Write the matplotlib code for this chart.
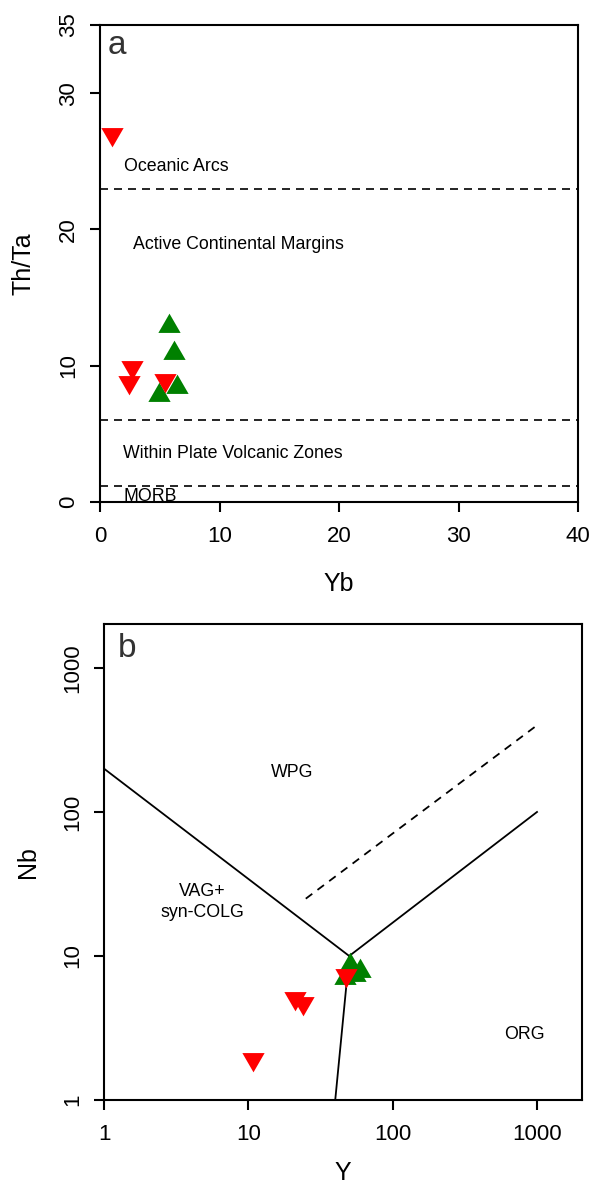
import matplotlib
matplotlib.use("Agg")
import matplotlib.pyplot as plt
from matplotlib.ticker import FixedLocator, NullLocator

plt.rcParams['font.family'] = ['Liberation Sans', 'DejaVu Sans']

# panel a: Th/Ta vs Yb
yb_green = [5.8, 6.2, 4.95]
thta_green = [12.9, 10.9, 7.85]
yb_red = [1.0, 2.7, 2.45, 5.4]
thta_red = [27.0, 9.9, 8.8, 8.95]
# last green is drawn over the red one next to it
yb_green_top = [6.45]
thta_green_top = [8.45]
bounds_a = [23, 6, 1.2]
xticks_a = [0, 10, 20, 30, 40]
yticks_a = [0, 10, 20, 30, 35]

# panel b: Nb vs Y
y_green = [50.9, 59.6, 46.6, 55]
nb_green = [8.7, 7.9, 7.0, 7.4]
y_red = [10.7, 21.2, 24.1, 47.2]
nb_red = [1.92, 5.1, 4.7, 7.4]
wpg_x = [1, 50, 1000]
wpg_y = [200, 10, 100]
org_x = [40, 50]
org_y = [1, 10]
dash_x = [25, 1000]
dash_y = [25, 400]
ticks_b = [1, 10, 100, 1000]

RED = '#ff0000'
GREEN = '#008000'
tri_up = [(0, 1), (-0.866, -0.5), (0.866, -0.5)]
tri_dn = [(0, -1), (-0.866, 0.5), (0.866, 0.5)]
MS = 18.5
FS = 12.8

fig = plt.figure(figsize=(5.9, 11.86), dpi=100)
W, H = 590, 1186
ax1 = fig.add_axes([100 / W, 1 - 502 / H, 478 / W, 477 / H])
ax2 = fig.add_axes([104 / W, 1 - 1100 / H, 478 / W, 476 / H])

for ax in (ax1, ax2):
    for s in ax.spines.values():
        s.set_linewidth(1.5)
    ax.tick_params(direction='out', length=7, width=1.5, labelsize=16, pad=10)
    ax.tick_params(axis='y', labelrotation=90, pad=8)

# ---- a ----
for b in bounds_a:
    ax1.axhline(b, color='black', lw=1.2, dashes=(4.8, 3.6))
ax1.plot(yb_green, thta_green, ls='none', marker=tri_up, ms=MS, mew=0, color=GREEN)
ax1.plot(yb_red, thta_red, ls='none', marker=tri_dn, ms=MS, mew=0, color=RED)
ax1.plot(yb_green_top, thta_green_top, ls='none', marker=tri_up, ms=MS, mew=0, color=GREEN)

ax1.text(2.0, 24.3, 'Oceanic Arcs', fontsize=FS)
ax1.text(2.8, 18.6, 'Active Continental Margins', fontsize=FS)
ax1.text(1.95, 3.25, 'Within Plate Volcanic Zones', fontsize=FS)
ax1.text(2.0, 0.1, 'MORB', fontsize=FS)
ax1.text(0.67, 32.9, 'a', fontsize=24, color='#333333')

ax1.set_xlim(0, 40)
ax1.set_ylim(0, 35)
ax1.set_xticks(xticks_a)
ax1.set_yticks(yticks_a)
plt.setp(ax1.get_yticklabels(), va='center')
ax1.set_xlabel('Yb', fontsize=18, labelpad=18)
ax1.set_ylabel('Th/Ta', fontsize=18, labelpad=16)

# ---- b ----
ax2.set_xscale('log')
ax2.set_yscale('log')
ax2.plot(wpg_x, wpg_y, color='black', lw=1.3)
ax2.plot(org_x, org_y, color='black', lw=1.3)
ax2.plot(dash_x, dash_y, color='black', lw=1.3, dashes=(4.5, 3.6))
ax2.plot(y_green, nb_green, ls='none', marker=tri_up, ms=MS, mew=0, color=GREEN)
ax2.plot(y_red, nb_red, ls='none', marker=tri_dn, ms=MS, mew=0, color=RED)

ax2.text(20, 187, 'WPG', fontsize=FS, ha='center', va='center')
ax2.text(4.8, 23.7, 'VAG+\nsyn-COLG', fontsize=FS, ha='center', va='center',
         linespacing=1.3)
ax2.text(812, 2.83, 'ORG', fontsize=FS, ha='center', va='center')
ax2.text(0.029, 0.931, 'b', fontsize=24, color='#333333', transform=ax2.transAxes)

ax2.set_xlim(1, 2050)
ax2.set_ylim(1, 2020)
ax2.xaxis.set_major_locator(FixedLocator(ticks_b))
ax2.yaxis.set_major_locator(FixedLocator(ticks_b))
ax2.xaxis.set_minor_locator(NullLocator())
ax2.yaxis.set_minor_locator(NullLocator())
ax2.set_xticklabels([str(t) for t in ticks_b])
ax2.set_yticklabels([str(t) for t in ticks_b])
plt.setp(ax2.get_yticklabels(), va='center')
ax2.set_xlabel('Y', fontsize=18, labelpad=12)
ax2.set_ylabel('Nb', fontsize=18, labelpad=16)

fig.savefig('out.png', dpi=100)
